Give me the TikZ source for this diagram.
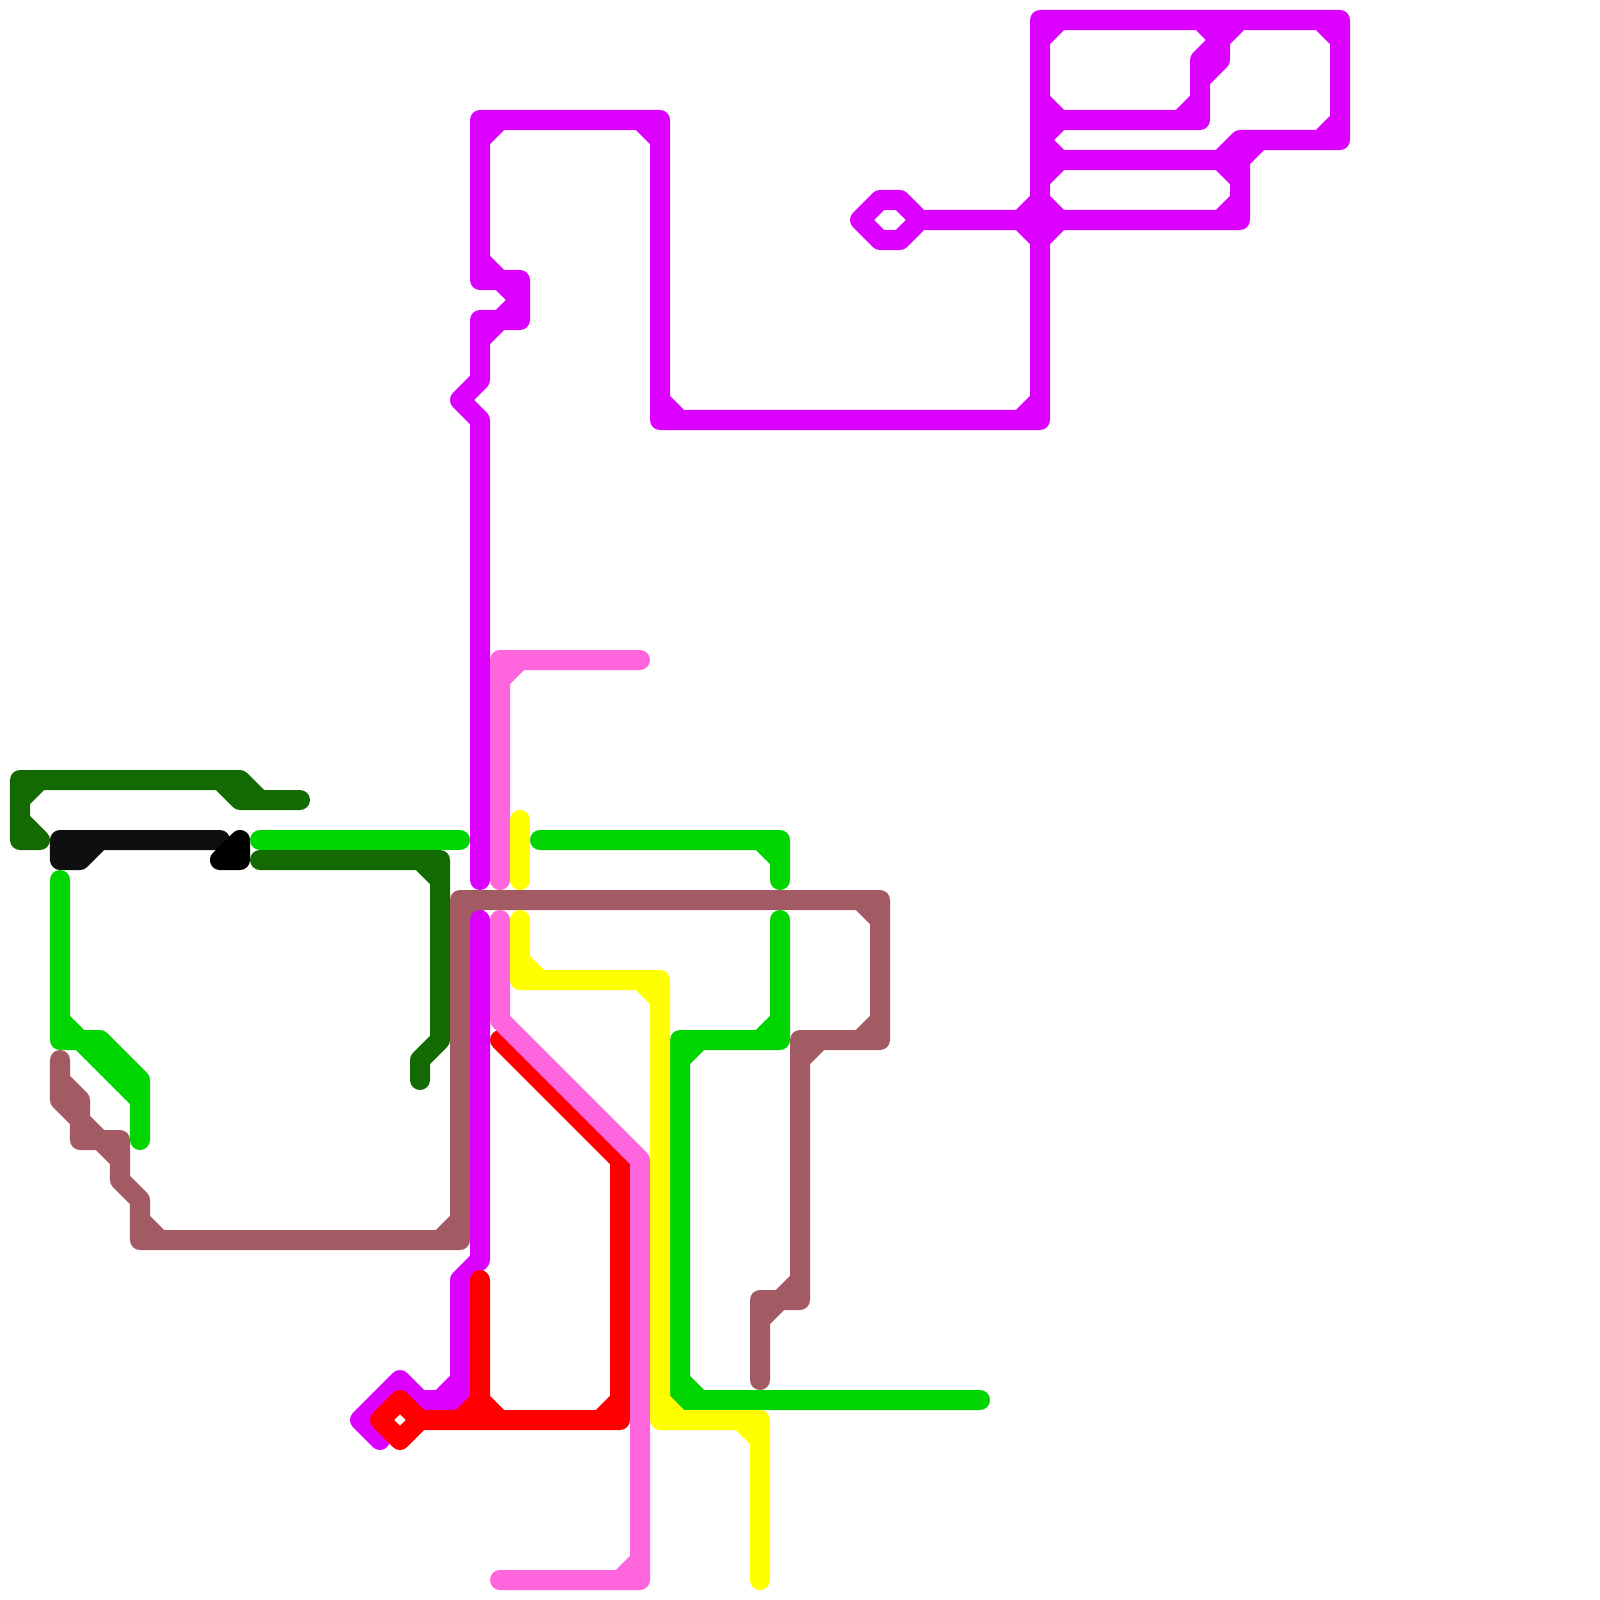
\documentclass[tikz,border=0pt]{standalone}
\definecolor{cDark}{HTML}{136A03}
\definecolor{cBlack}{HTML}{0F0F0F}
\definecolor{cGreen}{HTML}{00D500}
\definecolor{cBrown}{HTML}{A25A63}
\definecolor{cMag}{HTML}{DC00FF}
\definecolor{cPink}{HTML}{FF66DD}
\definecolor{cRed}{HTML}{FF0000}
\definecolor{cYellow}{HTML}{FFFF00}
\tikzset{railway/.style={line width=2mm,line cap=round,line join=round}}
\begin{document}
\begin{tikzpicture}[x=0.01cm,y=-0.01cm]
\path[fill=white,use as bounding box] (0,0) rectangle (1600,1600);
% dark green
\draw[railway,cDark] (40,840)--(20,840)--(20,780)--(240,780)--(260,800)--(300,800)
  (220,780)--(240,800)--(300,800) (20,800)--(40,780) (20,820)--(40,840);
\draw[railway,cDark] (260,860)--(440,860)--(440,1040)--(420,1060)--(420,1080) (420,860)--(440,880);
% black
\draw[railway,cBlack] (220,840)--(60,840)--(60,860)--(80,860)--(100,840) (60,840)--(80,860);
\draw[railway,black] (220,860)--(240,860)--(240,840)--cycle;
% green
\draw[railway,cGreen] (260,840)--(460,840);
\draw[railway,cGreen] (540,840)--(780,840)--(780,880) (760,840)--(780,860);
\draw[railway,cGreen] (60,880)--(60,1040)--(100,1040)--(140,1080)--(140,1140) (60,1020)--(80,1040)--(140,1100)
  (90,1040)--(140,1090);
% brown
\draw[railway,cBrown] (60,1060)--(60,1100)--(80,1120)--(80,1140)--(120,1140)--(120,1180)--(140,1200)--(140,1240)--(460,1240)--(460,900)--(880,900)--(880,1040)--(800,1040)--(800,1300)--(760,1300)--(760,1380)
  (60,1080)--(80,1100)--(80,1120)--(100,1140)--(120,1160) (140,1220)--(160,1240) (440,1240)--(460,1220)
  (460,920)--(480,900) (860,900)--(880,920) (880,1020)--(860,1040) (800,1060)--(820,1040) (800,1280)--(760,1320);
% magenta
\draw[railway,cMag] (480,880)--(480,420)--(460,400)--(480,380)--(480,320)--(520,320)--(520,280)--(480,280)--(480,120)--(660,120)--(660,420)--(1040,420)--(1040,20)--(1340,20)--(1340,140)--(1240,140)--(1220,160)
  (480,140)--(500,120) (640,120)--(660,140) (480,260)--(500,280)--(520,300)--(500,320)--(480,340)
  (660,400)--(680,420) (1020,420)--(1040,400) (1040,40)--(1060,20) (1320,20)--(1340,40) (1340,120)--(1320,140)
  (1040,100)--(1060,120)--(1040,140)--(1060,160)--(1040,180)
  (1040,120)--(1200,120)--(1200,60)--(1240,20) (1180,120)--(1200,100) (1200,80)--(1220,60)--(1220,40)--(1200,20)
  (1040,160)--(1240,160)--(1240,220)--(920,220) (1240,160)--(1260,140) (1220,160)--(1240,180) (1240,200)--(1220,220)
  (920,220)--(900,200)--(880,200)--(860,220)--(880,240)--(900,240)--(920,220)
  (1020,220)--(1040,200)--(1060,220)--(1040,240)--cycle;
\draw[railway,cMag] (480,920)--(480,1260)--(460,1280)--(460,1400)--(420,1400)--(400,1380)--(360,1420)--(380,1440)
  (440,1400)--(460,1380);
% red
\draw[railway,cRed] (500,1040)--(620,1160)--(620,1420)--(420,1420)--(400,1400)--(380,1420)--(400,1440)--(420,1420)
  (480,1280)--(480,1420) (460,1420)--(480,1400)--(500,1420) (600,1420)--(620,1400);
% pink
\draw[railway,cPink] (640,660)--(500,660)--(500,880) (500,680)--(520,660);
\draw[railway,cPink] (500,920)--(500,1020)--(640,1160)--(640,1580)--(500,1580) (640,1560)--(620,1580);
% green lower
\draw[railway,cGreen] (780,920)--(780,1040)--(680,1040)--(680,1400)--(980,1400)
  (760,1040)--(780,1020) (680,1060)--(700,1040) (680,1380)--(700,1400);
% yellow
\draw[railway,cYellow] (520,820)--(520,880);
\draw[railway,cYellow] (520,920)--(520,980)--(660,980)--(660,1420)--(760,1420)--(760,1580)
  (520,960)--(540,980) (640,980)--(660,1000) (660,1400)--(680,1420) (740,1420)--(760,1440);
\end{tikzpicture}
\end{document}
